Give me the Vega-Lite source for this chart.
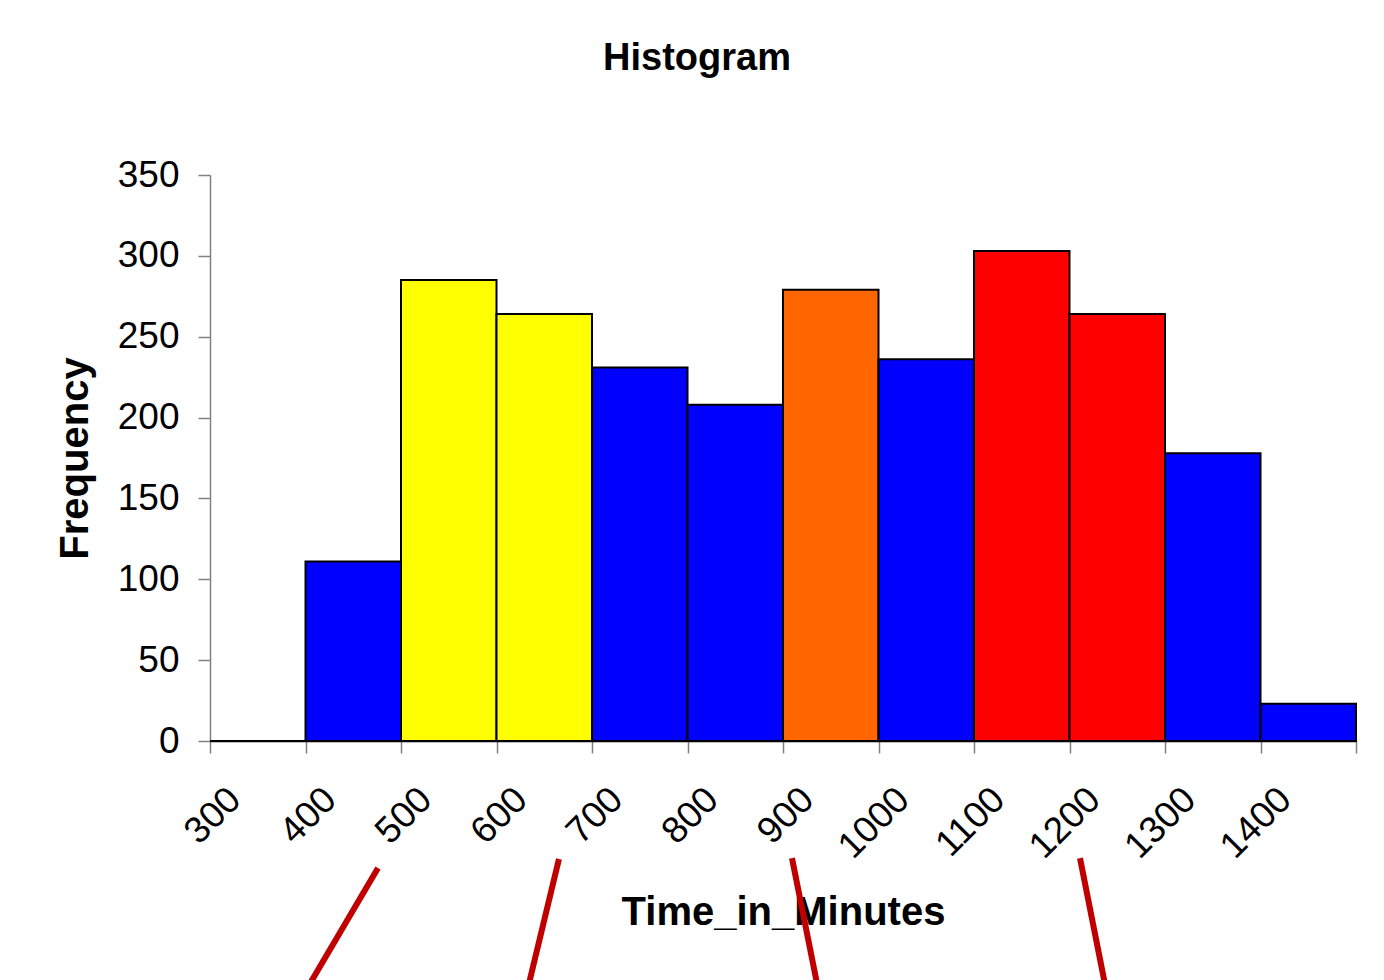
{
  "$schema": "https://vega.github.io/schema/vega-lite/v6.json",
  "width": 1146,
  "height": 566,
  "autosize": {"type": "none"},
  "padding": {"left": 210, "top": 175, "right": 28, "bottom": 239},
  "background": "white",
  "title": {
    "text": "Histogram",
    "font": "Liberation Sans",
    "fontSize": 38,
    "fontWeight": "bold",
    "color": "black",
    "anchor": "middle",
    "frame": "group",
    "dx": -86,
    "baseline": "alphabetic",
    "offset": 48
  },
  "config": {
    "view": {"stroke": null},
    "font": "Liberation Sans",
    "axis": {
      "labelFont": "Liberation Sans",
      "labelFontSize": 37,
      "labelColor": "black",
      "titleFont": "Liberation Sans",
      "titleFontSize": 40,
      "titleFontWeight": "bold",
      "titleColor": "black",
      "tickColor": "#808080",
      "tickSize": 12,
      "tickWidth": 1.5,
      "domainWidth": 1.5,
      "grid": false
    }
  },
  "layer": [
    {
      "data": {
        "values": [
          {"Time": "300", "Frequency": 0, "Highlight": "none"},
          {"Time": "400", "Frequency": 111, "Highlight": "none"},
          {"Time": "500", "Frequency": 285, "Highlight": "yellow"},
          {"Time": "600", "Frequency": 264, "Highlight": "yellow"},
          {"Time": "700", "Frequency": 231, "Highlight": "none"},
          {"Time": "800", "Frequency": 208, "Highlight": "none"},
          {"Time": "900", "Frequency": 279, "Highlight": "orange"},
          {"Time": "1000", "Frequency": 236, "Highlight": "none"},
          {"Time": "1100", "Frequency": 303, "Highlight": "red"},
          {"Time": "1200", "Frequency": 264, "Highlight": "red"},
          {"Time": "1300", "Frequency": 178, "Highlight": "none"},
          {"Time": "1400", "Frequency": 23, "Highlight": "none"}
        ]
      },
      "mark": {"type": "bar", "stroke": "black", "strokeWidth": 2, "opacity": 1},
      "encoding": {
        "x": {
          "field": "Time",
          "type": "ordinal",
          "sort": null,
          "scale": {"paddingInner": 0, "paddingOuter": 0},
          "axis": {
            "title": "Time_in_Minutes",
            "labelAngle": -45,
            "tickBand": "extent",
            "domainColor": "black",
            "labelPadding": 28,
            "labelOffset": -36,
            "titlePadding": 28
          }
        },
        "y": {
          "field": "Frequency",
          "type": "quantitative",
          "title": "Frequency",
          "scale": {"domain": [0, 350], "nice": false},
          "axis": {
            "values": [0, 50, 100, 150, 200, 250, 300, 350],
            "domainColor": "#808080",
            "labelPadding": 19,
            "titlePadding": 22
          }
        },
        "color": {
          "field": "Highlight",
          "type": "nominal",
          "scale": {
            "domain": ["none", "yellow", "orange", "red"],
            "range": ["#0000FF", "#FFFF00", "#FF6600", "#FF0000"]
          },
          "legend": null
        }
      }
    },
    {
      "data": {
        "values": [
          {"Start": 425.9, "End": 354.7, "Top": -78.5, "Bottom": -150},
          {"Start": 615.4, "End": 584.0, "Top": -73, "Bottom": -150},
          {"Start": 859.4, "End": 885.6, "Top": -72.4, "Bottom": -150},
          {"Start": 1161.0, "End": 1187.0, "Top": -72.4, "Bottom": -150}
        ]
      },
      "mark": {"type": "rule", "color": "#C00000", "strokeWidth": 6, "clip": false},
      "encoding": {
        "x": {
          "field": "Start",
          "type": "quantitative",
          "scale": {"domain": [250, 1450], "nice": false, "zero": false},
          "axis": null
        },
        "x2": {"field": "End"},
        "y": {
          "field": "Top",
          "type": "quantitative",
          "title": "Frequency",
          "scale": {"domain": [0, 350], "nice": false}
        },
        "y2": {"field": "Bottom"}
      }
    }
  ],
  "resolve": {"scale": {"x": "independent", "color": "independent"}}
}
